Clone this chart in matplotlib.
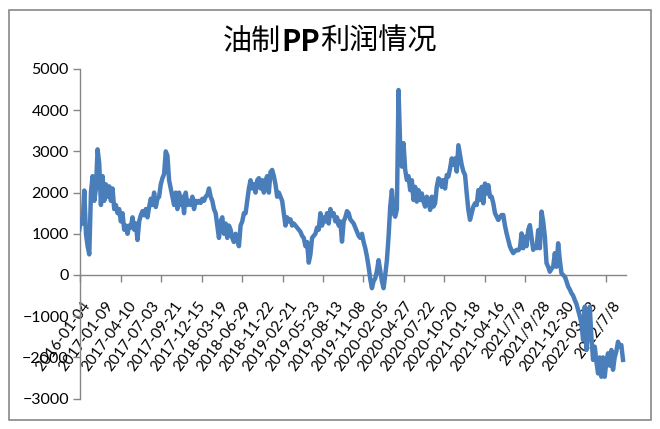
import numpy as np
import matplotlib
matplotlib.use("Agg")
import matplotlib.pyplot as plt
from matplotlib.patches import Rectangle

plt.rcParams['font.family'] = ['Lato', 'DejaVu Sans']

title_parts = ["油制", "PP", "利润情况"]
title_weights = ["normal", "bold", "normal"]

date_labels = ["2016-01-04", "2017-01-09", "2017-04-10", "2017-07-03", "2017-09-21",
               "2017-12-15", "2018-03-19", "2018-06-29", "2018-11-22", "2019-02-21",
               "2019-05-23", "2019-08-13", "2019-11-08", "2020-02-05", "2020-04-27",
               "2020-07-22", "2020-10-20", "2021-01-18", "2021-04-16", "2021/7/9",
               "2021/9/28", "2021-12-30", "2022-03-28", "2022/7/8"]

profit_2016_2019 = [1100, 1350, 1250, 2050, 1000, 700, 500, 2000, 2400, 1800, 2100, 3050,
                    2700, 1700, 2400, 1800, 2200, 1900, 2150, 1800, 2100, 1600, 1700, 1500,
                    1600, 1300, 1500, 1100, 1200, 1000, 1200, 1150, 1400, 1100, 1250, 850,
                    1300, 1450, 1550, 1450, 1600, 1400, 1650, 1850, 1700, 2000, 1650, 1850,
                    1900, 2200, 2350, 2450, 3000, 2900, 2300, 2100, 1900, 1700, 2000, 1600,
                    2000, 1700, 1900, 1500, 2000, 1700, 1800, 1700, 1900, 1600, 1800, 1750,
                    1800, 1750, 1850, 1800, 1900, 1950, 2100, 1900, 1800, 1600, 1500, 1200,
                    900, 1300, 1400, 1000, 1250, 900, 1200, 1100, 900, 800, 1000, 900,
                    700, 1200, 1300, 1500, 1500, 1800, 2100, 2300, 2100, 2200, 2000, 2300,
                    2350, 2100, 2300, 2000, 2300, 2400, 2000, 2500, 2550, 2400, 2200, 1900,
                    2000, 1900, 1800, 1500, 1200, 1400, 1300, 1350, 1200, 1250, 1200, 1150,
                    1100, 1050, 950, 900, 700, 800, 300, 500, 900, 950, 1000, 1150,
                    1100, 1500, 1200, 1400, 1300, 1500, 1250, 1600, 1450, 1500, 1300, 1400,
                    1200]
profit_2019_late = [1300, 810, 1300, 1400, 1550, 1500, 1350, 1300, 1250, 1150, 1050]
profit_2020_2021 = [950, 900, 1000, 800, 650, 450, 200, -100, -320, -150, -80, 100,
                    360, 100, -150, -320, 0, 360, 930, 1660, 2060, 1500, 1415, 1600,
                    4490, 3115, 2630, 3200, 2550, 2305, 2400, 2060, 2300, 1820, 2140, 1780,
                    2060, 1820, 1980, 1780, 1660, 1900, 1820, 1580, 1900, 1660, 1740, 2140,
                    2345, 2305, 2140, 2305, 2100, 2425, 2390, 2590, 2830, 2670, 2830, 2510,
                    3150, 2910, 2670, 2510, 2430, 1980, 1580, 1340, 1500, 1660, 1740, 1700,
                    2060, 1820, 2140, 1740, 2220, 1980, 2180, 1900, 1900, 1740, 1500, 1420]
profit_2021_2022 = [1335, 1400, 1456, 1456, 1200, 1010, 850, 690, 600, 530, 580, 610,
                    600, 650, 1010, 650, 930, 700, 1090, 1210, 900, 610, 700, 650,
                    1090, 650, 1540, 1300, 930, 290, 200, 80, 150, 200, 530, 200,
                    770, 360, 40, 0, -40, -150, -280, -350, -440, -500, -610, -700,
                    -850, -1000, -1170, -1580, -770, -1820, -1400, -770, -1500, -2060, -1740, -2100,
                    -2390, -2000, -2470, -2000, -2470, -2100, -1900, -2200, -1820, -2300, -2000, -1850,
                    -1620, -1740, -1700, -2060]

profit = np.array(profit_2016_2019 + profit_2019_late + profit_2020_2021 + profit_2021_2022, dtype=float)
n = len(profit)
x = np.arange(n)

# layout / style
W, H = 660, 429
fig = plt.figure(figsize=(W / 100, H / 100), dpi=100)
fig.patch.set_facecolor('white')
ax_left, ax_right, ax_top, ax_bottom = 80, 626, 69, 398.6
ax = fig.add_axes([ax_left / W, 1 - ax_bottom / H, (ax_right - ax_left) / W, (ax_bottom - ax_top) / H])

ax.plot(x, profit, color='#4a7ebb', lw=3.2, solid_joinstyle='round', zorder=3)

px_per_pt = (623 - 79.3) / (n - 1)
x0 = -(79.3 - ax_left) / px_per_pt
x1 = x0 + (ax_right - ax_left) / px_per_pt
ax.set_xlim(x0, x1)
ax.set_ylim(-3000, 5000)
ax.set_yticks(np.arange(-3000, 5001, 1000))

grey = '#868686'
for s in ['top', 'right']:
    ax.spines[s].set_visible(False)
ax.spines['left'].set_color(grey)
ax.spines['bottom'].set_color(grey)
ax.spines['bottom'].set_position(('data', 0))
ax.spines['left'].set_linewidth(1.0)
ax.spines['bottom'].set_linewidth(1.0)

# label positions and tick marks (in category index units)
label_pos = [x0 + (93 - ax_left + 23.04 * i) / px_per_pt for i in range(len(date_labels))]
tick_pos = [x0 + 40.5 * i / px_per_pt for i in range(14)]
ax.set_xticks(label_pos)
ax.set_xticklabels(date_labels, rotation=54, ha='right', va='top', fontsize=11)
ax.set_xticks(tick_pos, minor=True)
ax.tick_params(axis='x', which='major', length=0, pad=17)
ax.tick_params(axis='x', which='minor', length=5, direction='out', color=grey, width=1)
ax.tick_params(axis='y', length=5, direction='out', color=grey, width=1, pad=3, labelsize=11.5)

# title built from pieces so that "PP" is bold
fig.canvas.draw()
renderer = fig.canvas.get_renderer()
texts = []
for part, wt in zip(title_parts, title_weights):
    t = fig.text(0, 1 - 42 / H, part, ha='left', va='center', fontsize=21, fontweight=wt,
                 family=['Noto Sans CJK SC', 'DejaVu Sans'])
    texts.append(t)
widths = [t.get_window_extent(renderer).width for t in texts]
total = sum(widths)
start = (W / 2 - total / 2)
for t, w in zip(texts, widths):
    t.set_x(start / W)
    start += w

fig.patches.append(Rectangle((9 / W, 1 - 420 / H), (651 - 9) / W, (420 - 10) / H,
                             transform=fig.transFigure, fill=False, edgecolor='#888888', lw=1.2))

fig.savefig('out.png', dpi=100)
